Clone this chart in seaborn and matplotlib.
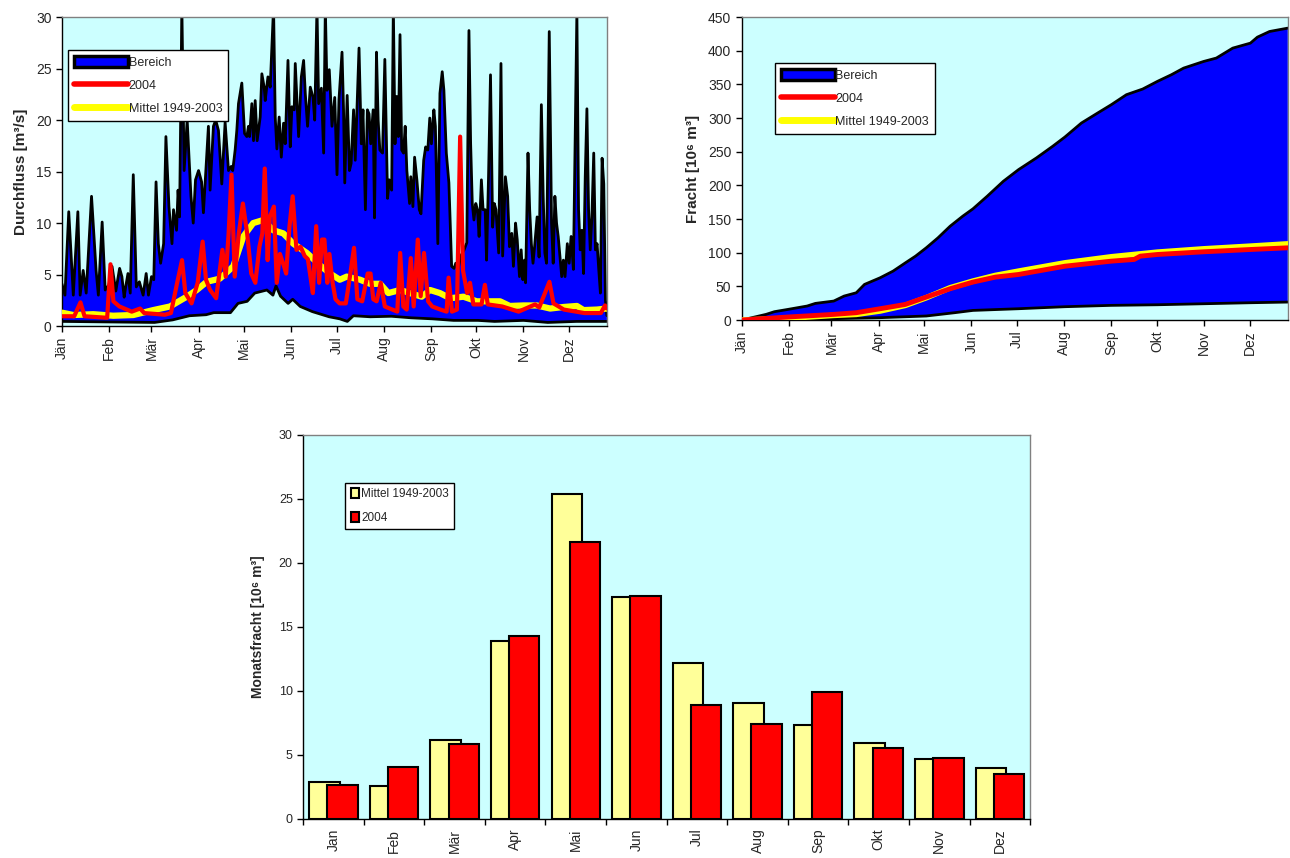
import numpy as np
import matplotlib
matplotlib.use("Agg")
import matplotlib.pyplot as plt
from matplotlib.patches import Patch
from matplotlib.lines import Line2D
import seaborn as sns

# --- daily discharge, x = day of year ---
months_daily = ["Jän", "Feb", "Mär", "Apr", "Mai", "Jun", "Jul", "Aug", "Sep", "Okt", "Nov", "Dez"]
month_start = [0, 31, 59, 90, 120, 151, 181, 212, 243, 273, 304, 334]

qmax_day = [0, 2, 4.5, 7.5, 10.5, 12, 14, 16, 19.5, 22.5, 24, 26.5, 28.5, 31, 33, 35.5, 38, 39.5, 41, 42,
            43.5, 45, 47, 49, 51, 53.5, 55.5, 57, 59, 60.5, 62, 63.5, 65, 67, 68.5, 70.5, 72.5, 73.5, 75.5,
            76.5, 77.5, 79, 80.5, 82.5, 85, 86.5,
            88, 90, 92, 93.2, 96.5, 97.6, 99.8, 101.3, 103.1, 105.3, 107.5, 109.7, 111.5, 112.5, 114.1, 115.2,
            116.3, 118.5, 120.3, 121.8, 122.9, 123.6, 125.1, 126.2, 127.3, 128.6, 130.6, 131.7, 133.2, 133.9,
            135.7, 137.2, 139.4, 140.5, 141.6, 143.1, 144.5, 146, 147.1, 148.9, 150.4, 151.5, 153, 153.7, 154.8,
            155.9, 157.7, 159.2, 160.3, 161.8, 163.6, 165.4, 166.5, 168, 169.1, 170.9, 172.4, 173.5, 174.6,
            176.1, 177.9, 179.7, 181.2, 182.5, 184.5, 185.5, 186.3,
            187.9, 189.4, 190.5, 192.1, 193.2, 194.3, 195.7, 197.2, 198.3, 199.9, 201.2, 202.3, 203.4, 205,
            205.9, 207.2, 208.3, 209.4, 211.2, 212.7, 214.5, 215.6, 217.2, 218.3, 219.4, 220.5, 221.6, 222.7,
            223.8, 225, 226.1, 227.2, 229, 229.8, 231.2, 232.3, 233.8, 235.4, 236.5, 238.3, 239.6, 241, 242.3,
            243.4, 245, 246, 247.6, 249, 250.5, 251.6, 253.2, 254.9, 256.7, 258.3, 259.4, 260.9, 262.7, 264.9,
            266.7,
            268.1, 269.2, 270.3, 271.4, 272.6, 273.7, 274.8, 276.3, 277.4, 278.8, 279.7, 281, 282.3, 283.7,
            284.8, 285.9, 287.7, 289.2, 290.3, 292.1, 293.6, 294.8, 296.3, 297.4, 298.8, 299.9, 301.4, 302.5,
            303.6, 304.7, 305.4, 307, 308.1, 309.2, 310.3, 311.4, 313, 314.3, 315.8, 317, 318.1, 319.2, 321,
            322.5, 323.6, 324.7, 325.8, 326.9, 328.1, 329.2, 330.3, 331.4, 332.9, 334.1, 335.4, 336.9, 339.2,
            340.3, 341.4, 342.5, 343.6, 344.7, 345.8, 346.9, 348, 349.1, 350.3, 351.4, 352.5, 353.6, 354.7,
            355.8, 356.9, 358, 359]
qmax = [4.1, 3.0, 11.1, 3.0, 11.1, 3.0, 5.4, 3.2, 12.6, 5.4, 3.0, 10.1, 3.5, 4.0, 5.8, 3.4, 5.6, 4.8, 2.8, 3.8,
        5.1, 3.2, 14.7, 3.8, 4.3, 3.0, 5.1, 3.0, 4.8, 4.5, 14.0, 8.0, 6.1, 8.0, 18.4, 11.6, 8.0, 11.3, 9.3,
        13.2, 10.6, 31, 15.1, 20.0, 12.6, 10.0,
        14.2, 15.1, 14.0, 11.0, 19.4, 13.2, 19.4, 20.0, 19.0, 13.8, 19.8, 15.1, 15.5, 15.1, 17.1, 19.0,
        21.6, 23.6, 18.7, 18.4, 19.4, 18.4, 21.6, 18.0, 21.9, 18.0, 20.3, 24.5, 23.2, 21.9,
        24.2, 23.2, 31, 20.3, 17.2, 20.3, 16.4, 19.7, 17.7, 25.8, 17.4, 21.3, 21.0, 25.5, 21.9,
        18.4, 24.2, 25.8, 22.6, 19.4, 23.2, 22.2, 20.0, 31, 21.6, 23.1, 16.8, 31, 22.9,
        24.9, 19.4, 22.2, 14.7, 22.0, 26.6, 21.0, 13.9,
        22.4, 15.1, 15.8, 21.0, 16.1, 21.0, 27.0, 17.7, 21.0, 11.3, 21.0, 20.6, 17.7, 21.0,
        10.5, 26.6, 20.0, 17.1, 16.8, 25.9, 12.4, 14.2, 13.2, 31, 17.7, 22.3, 18.4, 28.3,
        17.1, 16.8, 19.4, 15.1, 11.9, 14.5, 11.6, 16.4, 14.2, 11.3, 10.9, 16.1, 17.4, 17.1, 20.2,
        17.7, 21.0, 19.4, 8.0, 22.6, 24.7, 22.9, 16.8, 13.9, 5.8, 5.6, 6.1, 5.5, 6.8, 7.4,
        8.1,
        28.7, 17.8, 11.9, 10.3, 11.9, 11.3, 8.7, 14.2, 11.3, 11.3, 6.4, 14.5, 24.4, 9.6,
        11.9, 11.3, 7.1, 25.5, 6.8, 14.5, 12.6, 7.7, 9.0, 5.8, 10.0, 8.4, 4.8, 7.4,
        4.5, 6.4, 4.2, 16.8, 11.3, 8.0, 6.1, 7.8, 10.6, 6.7, 21.5, 12.6, 7.1, 6.1, 28.6,
        10.0, 6.1, 12.6, 10.0, 8.7, 6.7, 4.8, 6.4, 4.8, 8.0, 6.1, 8.7, 5.5, 30.5,
        11.3, 7.4, 9.3, 5.1, 14.5, 21.1, 11.3, 7.4, 10.6, 16.8, 7.4, 8.0, 5.5, 3.2,
        16.3, 13.8, 2.5, 1.0]

qmin_day = [0, 61, 73, 84, 95, 100, 111, 116, 122, 127, 135, 139, 141, 144, 149, 152, 157, 165, 176, 183,
            188, 192, 203, 217, 230, 244, 258, 274, 285, 304, 320, 339, 359]
qmin = [0.45, 0.35, 0.6, 1.0, 1.1, 1.3, 1.3, 2.2, 2.4, 3.2, 3.5, 3.0, 3.9, 2.9, 2.2, 2.6, 1.9, 1.4, 0.9, 0.7,
        0.45, 1.0, 0.9, 0.95, 0.8, 0.7, 0.55, 0.55, 0.45, 0.55, 0.35, 0.45, 0.45]

qmean_day = [0, 7.5, 20.6, 33.8, 47, 60.2, 71.2, 82.2, 88.8, 95.4, 104, 112.9, 119.5, 126, 132.7, 139.2,
             145.8, 152.4, 161.3, 170, 176.6, 183, 187.6, 196.4, 203, 209.6, 215, 222.7, 229.3, 237, 242.5,
             249, 255.7, 264.5, 273.3, 280, 288.6, 295, 304, 312.8, 321.6, 330.4, 339.2, 343.6, 352.4, 359]
qmean = [1.3, 1.07, 1.15, 1.0, 1.07, 1.55, 1.9, 2.85, 3.5, 4.3, 4.6, 5.8, 8.7, 10.0, 10.3, 9.3,
         9.0, 8.0, 7.1, 5.9, 5.1, 4.5, 4.8, 4.5, 4.1, 4.1, 3.2, 3.5, 3.2, 2.85, 3.5,
         3.2, 2.7, 2.85, 2.4, 2.4, 2.4, 1.95, 2.0, 2.0, 1.7, 1.85, 1.95, 1.55, 1.6, 1.7]

q2004_day = [0, 8.1, 12.2, 14.9, 29.8, 32, 33.9, 37.9, 46, 51.5, 54.2, 67.8, 71.8, 75.9, 79.1, 81.3, 85.4,
             89.4, 92.7, 94.9, 97.6, 101.6, 105.7, 107.9, 109.8, 111.7, 113.8, 116.5, 119.2, 122, 124.7,
             127.4, 130.1, 132, 133.6, 135.5, 136.9, 139.6, 141.5, 143.6, 146.3, 147.7, 149.9, 152, 154.5,
             157.2, 159.9, 162, 164, 165.3, 167.5, 169.4, 171.3, 172.9, 174.8, 176.2, 178.3, 180.2, 182.9,
             187, 189.7, 192.4, 194.6, 197.8, 201.4, 203.3, 205.1, 207.3, 210, 212.7, 220.9, 222.8, 224.9,
             227.1, 229.8, 231.7, 234.4, 236.3, 238.5, 241.2, 243.9, 249.3, 253.4, 254.7, 256.9, 260.2,
             262.3, 264.2, 266.9, 268.8, 271, 276.4, 278.6, 280.5, 290, 300.8, 311.7, 314.4, 321.1, 323.8,
             330.6, 344.2, 355, 357.7, 359]
q2004 = [0.95, 0.95, 2.3, 0.95, 0.8, 6.0, 2.4, 1.9, 1.4, 1.7, 1.26, 1.1, 1.26, 4.2, 6.4, 3.2, 2.2,
         4.2, 8.2, 4.5, 3.5, 2.7, 7.4, 4.8, 9.0, 14.7, 4.8, 9.0, 11.9, 9.0, 5.1,
         4.2, 7.7, 9.0, 15.3, 6.4, 10.6, 11.6, 4.2, 7.0, 5.8, 5.1, 9.7, 12.6, 7.4,
         7.7, 6.8, 6.5, 4.5, 3.2, 9.7, 4.2, 8.4, 8.4, 4.2, 7.0, 4.2, 2.6, 2.2,
         2.2, 4.8, 7.6, 2.6, 2.4, 5.1, 5.1, 2.6, 2.4, 4.2, 1.9, 1.4, 7.1, 1.9,
         1.6, 6.6, 1.9, 8.4, 2.9, 7.1, 2.4, 1.9, 1.6, 1.4, 4.7, 1.4, 1.6,
         18.4, 5.4, 3.2, 4.2, 2.1, 2.1, 4.0, 2.1, 1.9, 1.4, 2.1, 1.8, 4.3, 2.2,
         1.6, 1.26, 1.26, 2.0, 1.7]

# --- cumulative load [10^6 m3] ---
cmax_day = [0, 16, 21.5, 30.4, 43, 48.4, 60.5, 67.3, 75.3, 80.7, 91, 99.5, 107.6, 114.3, 121.3, 129, 137,
            145.3, 152, 161.4, 172, 182, 193.7, 204.4, 212.5, 223.3, 234, 243, 252.9, 263.6, 273.3, 282.5,
            290.5, 303.7, 312, 322.8, 334.4, 339, 347, 359]
cmax = [0, 8.4, 12.4, 15.8, 20.8, 24.7, 28.2, 35.6, 40.5, 52.9, 62.8, 72.7, 85, 95, 107.3, 122.1, 139.4,
        154.3, 165.2, 184, 206.2, 223.5, 240.8, 258.1, 272, 292.7, 307.6, 320, 334.8, 343.2, 354.6, 364.5,
        374.3, 384.2, 389.2, 404, 411.4, 420.3, 428.7, 433.7]
cmin_day = [0, 60.5, 91, 121.3, 140, 152, 182, 212.5, 243, 273.3, 303.7, 334.4, 359]
cmin = [0, 2, 3.5, 6, 10.9, 14.3, 16.8, 19.8, 21.8, 22.7, 24.2, 25.7, 26.7]
cmean_day = [0, 30.4, 60.5, 75.3, 91, 107.6, 121.3, 137, 152, 166.8, 182, 212.5, 243, 273.3, 303.7, 334.4, 359]
cmean = [0, 2.5, 6.9, 8.4, 13.4, 21.8, 33.1, 48, 57.9, 66.3, 72.7, 85, 94, 100.9, 105.8, 109.8, 113.2]
c2004_day = [0, 30.4, 60.5, 75.3, 91, 107.6, 121.3, 137, 152, 166.8, 182, 212.5, 243, 258, 262, 273.3,
             303.7, 334.4, 359]
c2004 = [0, 4.5, 8.4, 10.9, 16.8, 23.2, 34.1, 46.5, 56.4, 63.8, 67.7, 80, 87.5, 90, 94.9, 97.4,
         101.4, 104.8, 107.3]

# --- monthly load [10^6 m3] ---
months_bar = ["Jan", "Feb", "Mär", "Apr", "Mai", "Jun", "Jul", "Aug", "Sep", "Okt", "Nov", "Dez"]
monat_mittel = [2.85, 2.55, 6.15, 13.9, 25.4, 17.35, 12.15, 9.05, 7.35, 5.95, 4.65, 3.95]
monat_2004 = [2.65, 4.05, 5.85, 14.3, 21.6, 17.4, 8.9, 7.45, 9.95, 5.55, 4.75, 3.55]

CYAN = "#CCFFFF"
BLUE = "#0000FF"
RED = "#FF0000"
YELLOW = "#FFFF00"
PALE = "#FFFF99"

sns.set_style("ticks")
plt.rcParams["font.family"] = ["Liberation Sans", "DejaVu Sans"]


def style_axes(ax, labelsize=10):
    ax.set_facecolor(CYAN)
    for s in ["left", "bottom"]:
        ax.spines[s].set_color("black")
        ax.spines[s].set_linewidth(1.0)
    for s in ["top", "right"]:
        ax.spines[s].set_color("#808080")
        ax.spines[s].set_linewidth(1.0)
    ax.tick_params(direction="out", length=4, width=1, color="black", labelsize=labelsize)
    ax.grid(False)


def band_legend(ax, anchor):
    handles = [Patch(facecolor=BLUE, edgecolor="black", linewidth=2.5),
               Line2D([], [], color=RED, lw=4, solid_capstyle="round"),
               Line2D([], [], color=YELLOW, lw=5, solid_capstyle="round")]
    leg = ax.legend(handles, ["Bereich", "2004", "Mittel 1949-2003"], loc="upper left",
                    bbox_to_anchor=anchor, borderaxespad=0, fancybox=False, framealpha=1,
                    edgecolor="black", fontsize=9, handlelength=4.3, handleheight=0.9,
                    handletextpad=0.05, labelspacing=0.85, borderpad=0.5)
    leg.get_frame().set_linewidth(1.0)


fig = plt.figure(figsize=(12.9, 8.58), dpi=100)
ax1 = fig.add_axes([0.048, 0.620, 0.4225, 0.360])
ax2 = fig.add_axes([0.575, 0.627, 0.4233, 0.353])
ax3 = fig.add_axes([0.235, 0.0455, 0.5636, 0.4476])

# panel 1: daily discharge
style_axes(ax1)
ax1.fill(np.concatenate([qmax_day, qmin_day[::-1]]), np.concatenate([qmax, qmin[::-1]]),
         color=BLUE, lw=0, zorder=1)
sns.lineplot(x=qmax_day, y=qmax, color="black", linewidth=2, sort=False, estimator=None, ax=ax1, zorder=2)
sns.lineplot(x=qmin_day, y=qmin, color="black", linewidth=2, sort=False, estimator=None, ax=ax1, zorder=2)
sns.lineplot(x=qmean_day, y=qmean, color=YELLOW, linewidth=4.5, sort=False, estimator=None, ax=ax1, zorder=3)
sns.lineplot(x=q2004_day, y=q2004, color=RED, linewidth=3, sort=False, estimator=None, ax=ax1, zorder=4)
ax1.set_xlim(0, 359)
ax1.set_ylim(0, 30)
ax1.set_yticks(np.arange(0, 31, 5))
ax1.set_xticks(month_start)
ax1.set_xticklabels(months_daily, rotation=90)
ax1.set_xlabel("")
ax1.set_ylabel("Durchfluss [m³/s]", fontweight="bold", fontsize=11, labelpad=6)
band_legend(ax1, (0.011, 0.893))

# panel 2: cumulative load
style_axes(ax2)
ax2.fill(np.concatenate([cmax_day, cmin_day[::-1]]), np.concatenate([cmax, cmin[::-1]]),
         color=BLUE, lw=0, zorder=1)
sns.lineplot(x=cmax_day, y=cmax, color="black", linewidth=2, sort=False, estimator=None, ax=ax2, zorder=2)
sns.lineplot(x=cmin_day, y=cmin, color="black", linewidth=2, sort=False, estimator=None, ax=ax2, zorder=2)
sns.lineplot(x=cmean_day, y=cmean, color=YELLOW, linewidth=4, sort=False, estimator=None, ax=ax2, zorder=3)
sns.lineplot(x=c2004_day, y=c2004, color=RED, linewidth=3.5, sort=False, estimator=None, ax=ax2, zorder=4)
ax2.set_xlim(0, 359)
ax2.set_ylim(0, 450)
ax2.set_yticks(np.arange(0, 451, 50))
ax2.set_xticks(month_start)
ax2.set_xticklabels(months_daily, rotation=90)
ax2.set_xlabel("")
ax2.set_ylabel("Fracht [10⁶ m³]", fontweight="bold", fontsize=11, labelpad=6)
band_legend(ax2, (0.060, 0.848))

# panel 3: monthly load
style_axes(ax3, labelsize=9)
pos = np.arange(len(months_bar))
sns.barplot(x=pos - 0.15, y=monat_mittel, native_scale=True, width=0.5, color=PALE, saturation=1,
            edgecolor="black", linewidth=1.5, errorbar=None, ax=ax3, zorder=2)
sns.barplot(x=pos + 0.15, y=monat_2004, native_scale=True, width=0.5, color=RED, saturation=1,
            edgecolor="black", linewidth=1.5, errorbar=None, ax=ax3, zorder=3)
ax3.set_xlim(-0.5, 11.5)
ax3.set_ylim(0, 30)
ax3.set_yticks(np.arange(0, 31, 5))
ax3.set_xticks(np.arange(-0.5, 12, 1))
ax3.set_xticklabels([])
ax3.set_xticks(pos, minor=True)
ax3.set_xticklabels(months_bar, minor=True, rotation=90, fontsize=10)
ax3.tick_params(axis="x", which="minor", length=0, pad=7)
ax3.set_xlabel("")
ax3.set_ylabel("Monatsfracht [10⁶ m³]", fontweight="bold", fontsize=10, labelpad=10)
leg3 = ax3.legend([Patch(facecolor=PALE, edgecolor="black", linewidth=1.5),
                   Patch(facecolor=RED, edgecolor="black", linewidth=1.5)],
                  ["Mittel 1949-2003", "2004"], loc="upper left", bbox_to_anchor=(0.058, 0.875),
                  borderaxespad=0, fancybox=False, framealpha=1, edgecolor="black", fontsize=8.5,
                  handlelength=0.7, handleheight=0.9, handletextpad=0.2, labelspacing=1.0,
                  borderpad=0.45)
leg3.get_frame().set_linewidth(1.0)

fig.savefig("out.png", dpi=100)
